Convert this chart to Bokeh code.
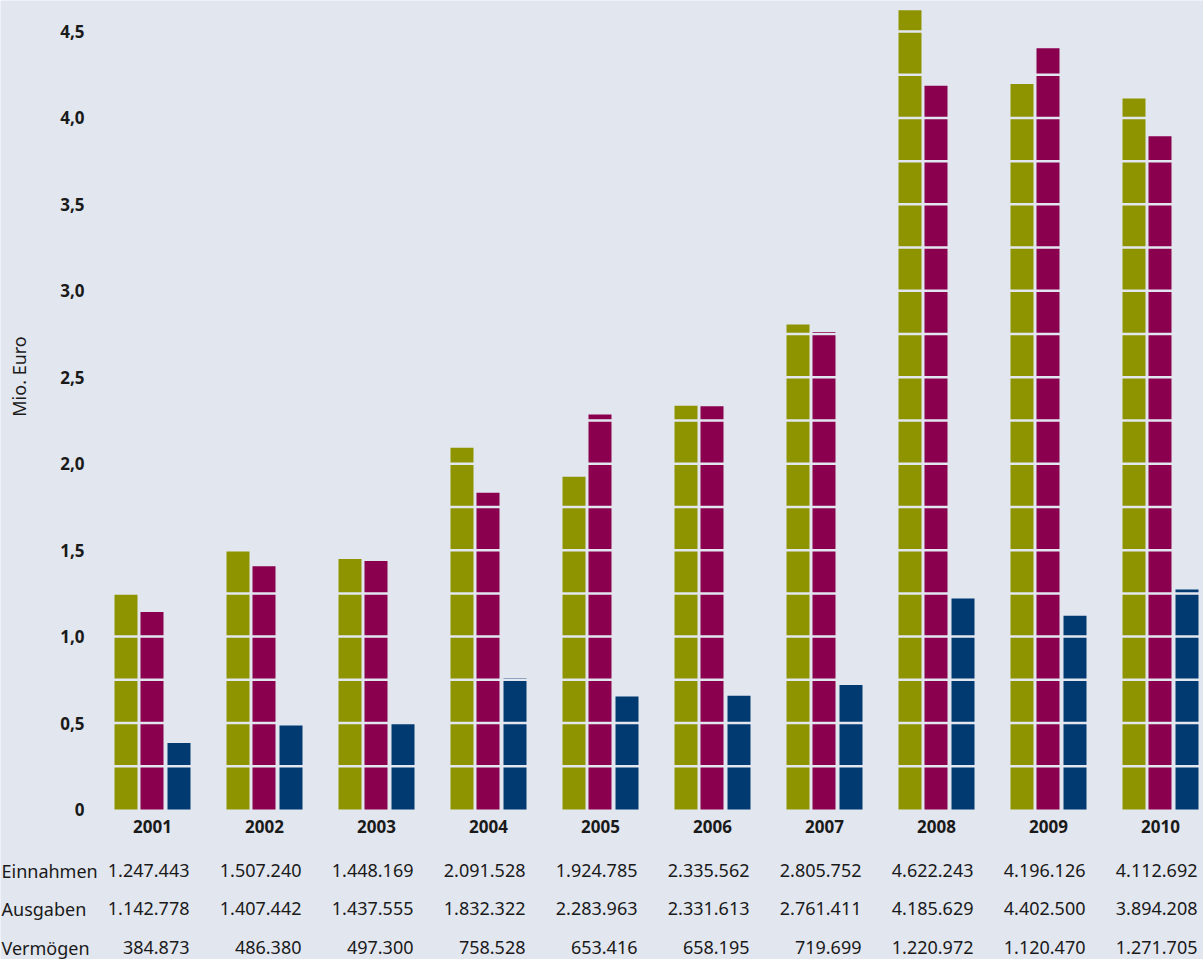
import math
from bokeh.plotting import figure
from bokeh.models import ColumnDataSource, Range1d
from bokeh.transform import dodge
from bokeh.core.properties import value
from bokeh.embed import file_html
from bokeh.resources import INLINE

years = ["2001", "2002", "2003", "2004", "2005", "2006", "2007", "2008", "2009", "2010"]
einnahmen = [1247443, 1507240, 1448169, 2091528, 1924785, 2335562, 2805752, 4622243, 4196126, 4112692]
ausgaben = [1142778, 1407442, 1437555, 1832322, 2283963, 2331613, 2761411, 4185629, 4402500, 3894208]
vermoegen = [384873, 486380, 497300, 758528, 653416, 658195, 719699, 1220972, 1120470, 1271705]
row_labels = ["Einnahmen", "Ausgaben", "Vermögen"]
y_ticks = [0, 0.5, 1.0, 1.5, 2.0, 2.5, 3.0, 3.5, 4.0, 4.5]
grid_step = 0.25
y_title = "Mio. Euro"

BG = "#e2e6ef"
C_E = "#8e9300"
C_A = "#8a004f"
C_V = "#003a70"
TXT = "#1a1a1a"
FONT = "Noto Sans"

PX = 112.0   # pixels per category unit
PY = 172.9   # pixels per Mio. Euro
W = 1203
H = 959
ZERO = 809   # pixel row of the zero line
x0 = 152.0   # pixel column of the first group centre


def px_x(px):
    return (px - x0) / PX


def px_y(py):
    return (ZERO - py) / PY


idx = list(range(len(years)))
src = ColumnDataSource(dict(
    x=idx,
    e=[v / 1e6 for v in einnahmen],
    a=[v / 1e6 for v in ausgaben],
    v=[v / 1e6 for v in vermoegen],
))

p = figure(width=W, height=H, output_backend="svg", toolbar_location=None,
           x_range=Range1d(px_x(0), px_x(W)),
           y_range=Range1d(px_y(H), px_y(0)),
           x_axis_type=None, y_axis_type=None, min_border=0)
p.background_fill_color = BG
p.border_fill_color = BG
p.outline_line_color = None
p.grid.visible = False

bw = 23 / PX
off = 26.5 / PX
p.vbar(x=dodge("x", -off, range=p.x_range), top="e", width=bw, bottom=0, source=src,
       fill_color=C_E, line_color=None)
p.vbar(x=dodge("x", -0.5 / PX, range=p.x_range), top="a", width=bw, bottom=0, source=src,
       fill_color=C_A, line_color=None)
p.vbar(x=dodge("x", off, range=p.x_range), top="v", width=bw, bottom=0, source=src,
       fill_color=C_V, line_color=None)

# background-coloured separator lines across the bars every 0.25 Mio.
n_grid = int(round(max(y_ticks) / grid_step))
gy = [grid_step * k for k in range(1, n_grid + 1)]
gsrc = ColumnDataSource(dict(y=gy))
p.segment(x0=px_x(105), y0="y", x1=px_x(W), y1="y", source=gsrc,
          line_color=BG, line_width=2.5)

# y tick labels
tick_src = ColumnDataSource(dict(
    y=y_ticks,
    t=["0" if t == 0 else f"{t:.1f}".replace(".", ",") for t in y_ticks],
))
p.text(x=px_x(84), y="y", text="t", source=tick_src, text_align="right",
       text_baseline="middle", text_font=value(FONT), text_font_size="17px",
       text_font_style="bold", text_color=TXT)

# y title
p.text(x=[px_x(18)], y=[px_y(376)], text=[y_title], angle=math.pi / 2,
       text_align="center", text_baseline="middle", text_font=value(FONT),
       text_font_size="18px", text_color=TXT)

# year labels
year_src = ColumnDataSource(dict(x=idx, t=years))
p.text(x="x", y=px_y(826), text="t", source=year_src, text_align="center",
       text_baseline="middle", text_font=value(FONT), text_font_size="17px",
       text_font_style="bold", text_color=TXT)


# table below the chart
def fmt(v):
    return f"{v:,}".replace(",", ".")


row_pix = [870, 908, 947]
tx, ty, tt = [], [], []
for r, series in enumerate([einnahmen, ausgaben, vermoegen]):
    for i, v in enumerate(series):
        tx.append(i + 37 / PX)
        ty.append(px_y(row_pix[r]))
        tt.append(fmt(v))
tsrc = ColumnDataSource(dict(x=tx, y=ty, t=tt))
p.text(x="x", y="y", text="t", source=tsrc, text_align="right",
       text_baseline="middle", text_font=value(FONT), text_font_size="18px",
       text_color=TXT)

lsrc = ColumnDataSource(dict(y=[px_y(v) for v in row_pix], t=row_labels))
p.text(x=px_x(1), y="y", text="t", source=lsrc, text_align="left",
       text_baseline="middle", text_font=value(FONT),
       text_font_size="18px", text_color=TXT)

open("out.html", "w").write(file_html(p, INLINE))
